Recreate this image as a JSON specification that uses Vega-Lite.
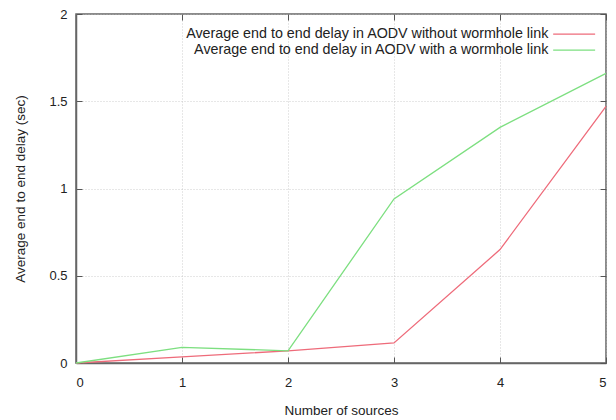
{
  "$schema": "https://vega.github.io/schema/vega-lite/v6.json",
  "width": 530,
  "height": 349,
  "autosize": "none",
  "padding": {"left": 76, "top": 14, "right": 10, "bottom": 57},
  "background": "white",
  "config": {
    "font": "Liberation Sans",
    "view": {"stroke": "#666", "strokeWidth": 1.5},
    "axis": {
      "labelFont": "Liberation Sans",
      "titleFont": "Liberation Sans",
      "labelFontSize": 13,
      "titleFontSize": 13.5,
      "labelColor": "#222",
      "titleColor": "#222",
      "titleFontWeight": "normal",
      "gridColor": "#bbb",
      "gridDash": [1, 2],
      "gridWidth": 0.7,
      "domainColor": "#666",
      "domainWidth": 1.5,
      "tickColor": "#555",
      "tickWidth": 1,
      "tickSize": -6
    }
  },
  "data": {
    "values": [
      {"sources": 0, "delay": 0.0, "series": "Average end to end delay in AODV without wormhole link"},
      {"sources": 1, "delay": 0.035, "series": "Average end to end delay in AODV without wormhole link"},
      {"sources": 2, "delay": 0.07, "series": "Average end to end delay in AODV without wormhole link"},
      {"sources": 3, "delay": 0.115, "series": "Average end to end delay in AODV without wormhole link"},
      {"sources": 4, "delay": 0.65, "series": "Average end to end delay in AODV without wormhole link"},
      {"sources": 5, "delay": 1.47, "series": "Average end to end delay in AODV without wormhole link"},
      {"sources": 0, "delay": 0.0, "series": "Average end to end delay in AODV with a wormhole link"},
      {"sources": 1, "delay": 0.09, "series": "Average end to end delay in AODV with a wormhole link"},
      {"sources": 2, "delay": 0.07, "series": "Average end to end delay in AODV with a wormhole link"},
      {"sources": 3, "delay": 0.94, "series": "Average end to end delay in AODV with a wormhole link"},
      {"sources": 4, "delay": 1.35, "series": "Average end to end delay in AODV with a wormhole link"},
      {"sources": 5, "delay": 1.66, "series": "Average end to end delay in AODV with a wormhole link"}
    ]
  },
  "layer": [
    {
      "mark": {"type": "line", "strokeWidth": 1.3},
      "encoding": {
        "x": {
          "field": "sources", "type": "quantitative",
          "scale": {"domain": [0, 5], "nice": false},
          "axis": {"title": "Number of sources", "values": [0, 1, 2, 3, 4, 5], "format": "~g", "labelPadding": 19, "titlePadding": 14, "grid": true}
        },
        "y": {
          "field": "delay", "type": "quantitative",
          "scale": {"domain": [0, 2], "nice": false},
          "axis": {"title": "Average end to end delay (sec)", "values": [0, 0.5, 1, 1.5, 2], "format": "~g", "labelPadding": 15, "titlePadding": 21, "grid": true}
        },
        "color": {
          "field": "series", "type": "nominal",
          "scale": {
            "domain": ["Average end to end delay in AODV without wormhole link", "Average end to end delay in AODV with a wormhole link"],
            "range": ["#ee6b7a", "#7ddf80"]
          },
          "legend": {
            "title": null,
            "orient": "none",
            "legendX": 491,
            "legendY": 13,
            "symbolType": "M-4,0L4,0",
            "symbolSize": 110,
            "symbolStrokeWidth": 1.3,
            "labelAlign": "right",
            "labelOffset": -33,
            "labelFont": "Liberation Sans",
            "labelFontSize": 14.3,
            "labelColor": "#222",
            "labelLimit": 600,
            "rowPadding": 1
          }
        }
      }
    },
    {
      "mark": {"type": "line", "opacity": 0},
      "encoding": {
        "x": {
          "field": "sources", "type": "quantitative",
          "scale": {"domain": [0, 5], "nice": false},
          "axis": {"orient": "top", "title": null, "labels": false, "grid": false, "domain": false, "values": [0, 1, 2, 3, 4, 5]}
        },
        "y": {
          "field": "delay", "type": "quantitative",
          "scale": {"domain": [0, 2], "nice": false},
          "axis": {"orient": "right", "title": null, "labels": false, "grid": false, "domain": false, "values": [0, 0.5, 1, 1.5, 2]}
        },
        "detail": {"field": "series"}
      }
    }
  ],
  "resolve": {"axis": {"x": "independent", "y": "independent"}}
}
